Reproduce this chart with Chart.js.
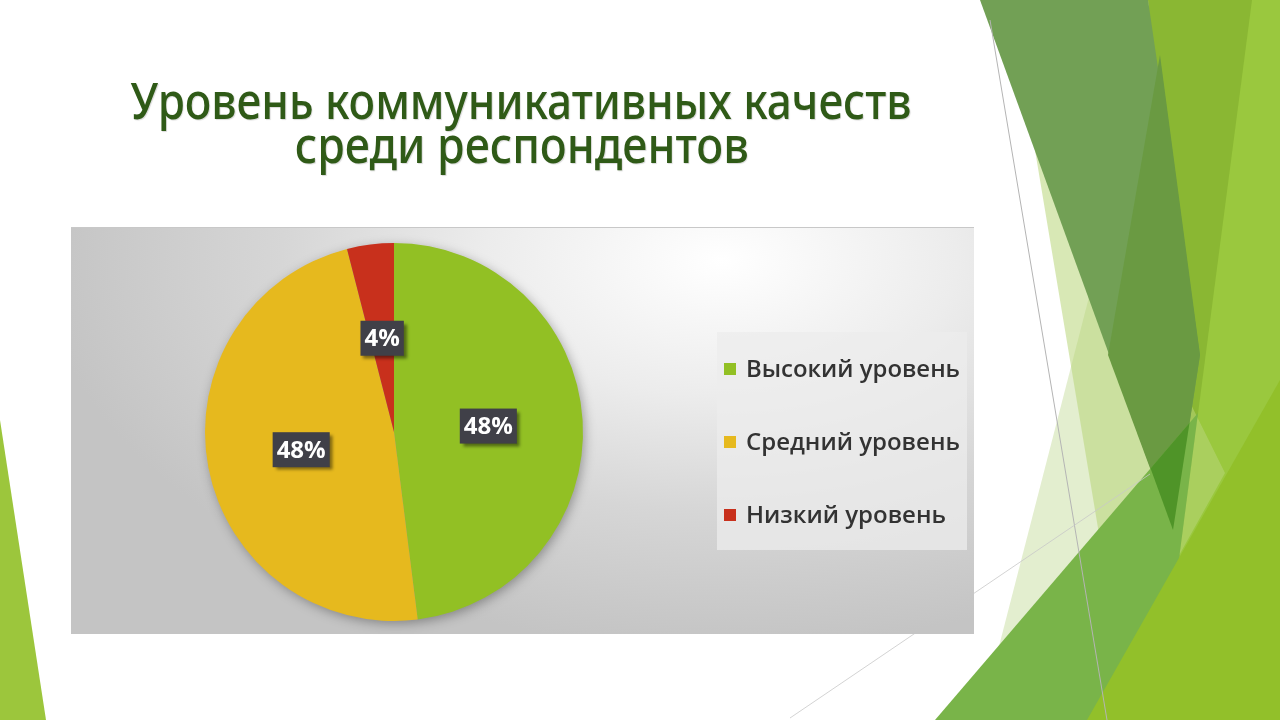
<!DOCTYPE html>
<html>
<head>
<meta charset="utf-8">
<script src="https://cdn.jsdelivr.net/npm/chart.js@4.4.1/dist/chart.umd.min.js"></script>
<style>
html, body { margin: 0; padding: 0; background: #fff; }
#slide { position: relative; width: 1280px; height: 720px; overflow: hidden; background: #fff; }
#deco { position: absolute; left: 0; top: 0; }
.title { position: absolute; left: 0; width: 1043px; text-align: center; font-family: "Noto Sans", sans-serif;
         font-weight: 500; font-size: 50px; line-height: 1; color: #2f5a17; white-space: nowrap;
         text-shadow: 1px 1px 1px rgba(0,0,0,0.15); }
.title span { display: inline-block; transform-origin: center; }
#box { position: absolute; left: 71px; top: 227px; width: 903px; height: 407px;
       background: radial-gradient(ellipse 75% 95% at 72% 8%, #ffffff 0%, #ececec 35%, #d6d6d6 65%, #c4c4c4 100%);
       border-top: 1px solid #c8c8c8; box-sizing: border-box; }
#theChart { position: absolute; left: 0; top: 0; }
</style>
</head>
<body>
<div id="slide">
  <canvas id="deco" width="1280" height="720"></canvas>
  <div class="title" style="top:75px"><span data-w="781">Уровень коммуникативных качеств</span></div>
  <div class="title" style="top:119px"><span data-w="454">среди респондентов</span></div>
  <div id="box"><canvas id="theChart" width="903" height="407"></canvas></div>
</div>
<script>
// chart data
var categories = ['Высокий уровень', 'Средний уровень', 'Низкий уровень'];
var shares = [48, 48, 4];
var sliceColors = ['#92c024', '#e6b91e', '#c8301c'];

// squeeze the title lines to the width they have on the slide
document.querySelectorAll('.title span').forEach(function (s) {
    var target = parseFloat(s.getAttribute('data-w'));
    var w = s.getBoundingClientRect().width;
    s.style.transform = 'scaleX(' + (target / w) + ')';
});

// slide decoration (green triangles of the theme)
function drawDeco() {
    var c = document.getElementById('deco').getContext('2d');
    function poly(pts, color) {
        c.beginPath();
        c.moveTo(pts[0][0], pts[0][1]);
        for (var i = 1; i < pts.length; i++) c.lineTo(pts[i][0], pts[i][1]);
        c.closePath();
        c.fillStyle = color;
        c.fill();
    }
    poly([[0, 420], [46, 720], [0, 720]], '#9cc63c');

    var band = [[980, 0], [1148, 0], [1200, 355], [1173, 530]];
    var green = [[935, 720], [1198, 413], [1158, 720]];
    poly([[1148, 0], [1266, 0], [1180, 600], [1173, 530]], '#8ab733');
    poly([[1252, 0], [1280, 0], [1280, 720], [1158, 720]], '#9ac83e');
    poly([[1114, 200], [1173, 530], [980, 720]], '#e3eecf');
    poly([[1020, 60], [1225, 473], [1167, 577], [1130, 720]], 'rgba(184,214,120,0.55)');
    poly(band, '#72a055');
    poly([[1160, 55], [1200, 355], [1173, 530], [1108, 355]], '#6a9a42');
    poly(green, '#79b449');
    c.save();
    poly(band, 'rgba(0,0,0,0)');
    c.clip();
    poly(green, '#4f9428');
    c.restore();
    poly([[1087, 720], [1280, 380], [1280, 720]], '#92c02a');

    c.strokeStyle = '#b4b4b4';
    c.lineWidth = 1;
    c.beginPath(); c.moveTo(990, 20); c.lineTo(1107, 720); c.stroke();
    c.strokeStyle = 'rgba(200,200,200,0.8)';
    c.beginPath(); c.moveTo(790, 718); c.lineTo(1150, 474); c.stroke();
}
drawDeco();

// soft shadow under the whole pie
var pieShadow = {
    id: 'pieShadow',
    beforeDatasetsDraw: function (chart) {
        var arc = chart.getDatasetMeta(0).data[0];
        var ctx = chart.ctx;
        ctx.save();
        ctx.shadowColor = 'rgba(0,0,0,0.35)';
        ctx.shadowBlur = 12;
        ctx.shadowOffsetX = 2;
        ctx.shadowOffsetY = 3;
        ctx.beginPath();
        ctx.arc(arc.x, arc.y, arc.outerRadius - 1, 0, Math.PI * 2);
        ctx.fillStyle = '#999';
        ctx.fill();
        ctx.restore();
    }
};

// dark percentage boxes
var percentLabels = {
    id: 'percentLabels',
    afterDatasetsDraw: function (chart) {
        var ctx = chart.ctx;
        var data = chart.data.datasets[0].data;
        var total = data.reduce(function (a, b) { return a + b; }, 0);
        chart.getDatasetMeta(0).data.forEach(function (arc, i) {
            var p = arc.tooltipPosition();
            var text = Math.round(data[i] / total * 100) + '%';
            ctx.save();
            ctx.font = 'bold 24px "Open Sans"';
            var w = ctx.measureText(text).width + 8;
            var h = 35;
            ctx.shadowColor = 'rgba(0,0,0,0.45)';
            ctx.shadowBlur = 3;
            ctx.shadowOffsetX = 3;
            ctx.shadowOffsetY = 3;
            ctx.fillStyle = '#404048';
            ctx.fillRect(p.x - w / 2, p.y - h / 2, w, h);
            ctx.restore();
            ctx.save();
            ctx.font = 'bold 24px "Open Sans"';
            ctx.fillStyle = '#ffffff';
            ctx.textAlign = 'center';
            ctx.textBaseline = 'middle';
            ctx.fillText(text, p.x, p.y + 1);
            ctx.restore();
        });
    }
};

// legend on a pale panel at the right
var sideLegend = {
    id: 'sideLegend',
    afterDraw: function (chart) {
        var ctx = chart.ctx;
        ctx.save();
        ctx.fillStyle = 'rgba(236,236,236,0.75)';
        ctx.fillRect(646, 104, 250, 218);
        var labels = chart.data.labels;
        var cols = chart.data.datasets[0].backgroundColor;
        labels.forEach(function (lab, i) {
            var y = 141 + i * 73;
            ctx.fillStyle = cols[i];
            ctx.fillRect(653, y - 6, 12, 12);
            ctx.fillStyle = '#333333';
            ctx.font = '600 24px "Open Sans"';
            ctx.textBaseline = 'middle';
            ctx.fillText(lab, 675, y + 1, 214);
        });
        ctx.restore();
    }
};

var ctx = document.getElementById('theChart').getContext('2d');
var chart = new Chart(ctx, {
    type: 'pie',
    data: {
        labels: categories,
        datasets: [{ data: shares, backgroundColor: sliceColors, borderWidth: 0, hoverOffset: 0 }]
    },
    options: {
        responsive: false,
        animation: false,
        devicePixelRatio: 1,
        layout: { padding: { left: 134, right: 391, top: 15, bottom: 14 } },
        plugins: { legend: { display: false }, tooltip: { enabled: false } }
    },
    plugins: [pieShadow, percentLabels, sideLegend]
});
</script>
</body>
</html>
